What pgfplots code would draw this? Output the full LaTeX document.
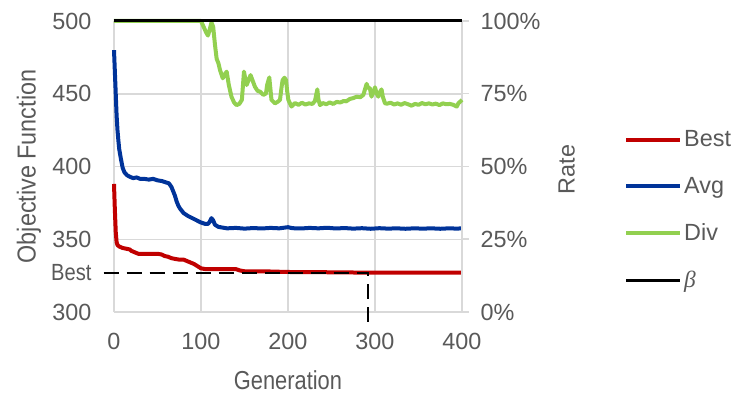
\documentclass[border=0pt]{standalone}
\usepackage{pgfplots}
\pgfplotsset{compat=1.18}
\usepackage{fontspec}
\setmainfont{Liberation Sans}
\newfontfamily\narrowA[FakeStretch=0.86]{Liberation Sans}
\newfontfamily\narrowB[FakeStretch=0.90]{Liberation Sans}
\newfontfamily\narrowC[FakeStretch=0.84]{Liberation Sans}
\newfontfamily\serifgreek{Liberation Serif}
\definecolor{txt}{HTML}{595959}
\definecolor{cRed}{HTML}{C00000}
\definecolor{cBlue}{HTML}{003399}
\definecolor{cGreen}{HTML}{92D050}
\definecolor{gridc}{HTML}{D9D9D9}
\newcommand\tfont{\fontsize{23.4pt}{28pt}\selectfont}
\begin{document}
\begin{tikzpicture}
\path[use as bounding box] (-114pt,-82pt) rectangle (626pt,312pt);
\pgfplotsset{
  base/.style={
    scale only axis, width=348pt, height=291pt,
    xmin=0, xmax=400,
    /pgf/number format/assume math mode=true,
    ticklabel style={font=\tfont, text=txt},
    label style={text=txt},
  }
}
\begin{axis}[base,
  ymin=300, ymax=500,
  axis x line*=bottom, axis y line*=left,
  axis line style={draw=gridc, line width=1.5pt, -},
  xtick={0,100,200,300,400}, ytick={300,350,400,450,500},
  major tick length=0pt,
  grid=major, major grid style={draw=gridc, line width=1.5pt},
  xticklabel style={yshift=-18pt},
  yticklabel style={xshift=-19pt},
  extra y ticks={327}, extra y tick labels={{\narrowA\tfont Best}},
  extra y tick style={grid=none, major tick length=0pt},
  xlabel={\narrowC\fontsize{26pt}{30pt}\selectfont Generation},
  xlabel style={at={(axis description cs:0.5,-0.2665)}, anchor=base, text depth=0pt, inner sep=0pt},
  ylabel={\narrowB\fontsize{26pt}{30pt}\selectfont Objective Function},
  ylabel style={at={(axis description cs:-0.2443,0.5)}, anchor=center},
  clip=false,
]
\addplot[cRed, line width=4pt, line join=round] coordinates {
(0,388) (1,370) (2,355) (3,348) (4,346) (6,345) (8,344.5) (10,344) (14,343.5) (18,343) (20,342) (24,341) (28,340) (40,340) (50,340) (55,339.5) (58,338.5) (62,338) (66,337) (70,336.5) (75,336) (80,336) (84,335) (88,334) (92,333) (96,331.5) (100,330) (105,329.5) (110,329.5) (125,329.5) (140,329.5) (145,328.5) (150,328) (170,328) (200,327.5) (250,327.3) (300,327) (400,327)
};
\addplot[cBlue, line width=4pt, line join=round] coordinates {
(0,480) (1,465) (2,450) (3,435) (4,425) (5,418) (6,412) (8,405) (10,399) (12,396) (15,394) (18,393) (22,392) (26,392.5) (30,391.5) (35,391.5) (40,391) (45,391.5) (50,390.5) (55,390) (60,389) (63,388.5) (66,386) (68,383) (70,380) (72,376) (74,373) (76,371) (80,368) (85,366) (90,364.5) (95,363) (100,361.5) (105,360.5) (108,360.5) (110,362) (112,364.5) (114,363) (116,360) (120,358.5) (125,358) (130,357.5) (140,357.8) (150,357.3) (160,357.7) (170,357.4) (180,357.8) (190,357.5) (200,358.3) (205,357.6) (215,357.4) (225,357.8) (235,357.5) (245,357.9) (255,357.4) (265,357.7) (275,357.3) (285,357.6) (295,357.2) (305,357.6) (315,357.3) (325,357.5) (335,357.2) (345,357.5) (355,357.3) (365,357.5) (375,357.2) (385,357.5) (395,357.3) (400,357.6)
};
\addplot[black, line width=2pt, dash pattern=on 15pt off 8pt] coordinates {
(-12,327) (292,327) (292,291)
};
\end{axis}
\begin{axis}[base,
  ymin=0, ymax=100,
  axis x line=none, axis y line*=right,
  axis line style={draw=gridc, line width=1.5pt, -},
  ytick={0,25,50,75,100},
  yticklabel={\pgfmathprintnumber{\tick}\%},
  tick align=outside, major tick length=7pt,
  tick style={draw=gridc, line width=1.5pt},
  yticklabel style={xshift=8pt},
  ylabel={\fontsize{23.4pt}{28pt}\selectfont Rate},
  ylabel style={at={(axis description cs:1.3009,0.49)}, anchor=center},
  clip=false,
  legend style={at={(axis description cs:1,0.35)}, anchor=west, xshift=159pt,
    draw=none, fill=none, font=\tfont, text=txt, row sep=25pt,
    nodes={inner sep=2pt}},
  legend cell align=left,
  legend image code/.code={\draw[#1] (0pt,0pt) -- (54pt,0pt);},
]
\addlegendimage{cRed, line width=4pt}
\addlegendentry{Best}
\addlegendimage{cBlue, line width=4pt}
\addlegendentry{Avg}
\addplot[cGreen, line width=4pt, line join=round] coordinates {
(0,100) (100,100) (103,98) (106,96) (108,95) (110,97) (112,99.5) (114,98) (116,92) (118,87) (120,85.5) (122,83) (125,80.3) (127,81.5) (129.5,82.6) (132,78) (135,74) (138,72) (141,71.1) (144,71.5) (147,72.9) (149.4,82.6) (151,80) (152.5,78) (155,80) (157,81.4) (160,79) (162,77.4) (165,76) (168,75.7) (171.6,74.6) (174.7,75.1) (176,78) (178.5,80.6) (180,76) (181,72.9) (185,71.7) (188,72.2) (190.8,72.9) (192.5,77) (193.8,79.7) (196,80.5) (197.7,79.7) (199,76) (200.4,72.9) (204,70.6) (208,71.8) (212,71.2) (216,71.9) (220,71.3) (224,71.7) (228,71.5) (231,72.5) (233.7,76.5) (235,73) (236.8,71.1) (240,71.8) (244,71.4) (248,72) (252,71.5) (256,72.2) (260,72) (264,72.5) (267,72.4) (271,73.2) (275,73.5) (279,74) (283,73.8) (286.6,74.6) (288,76) (290.4,78.4) (292,77) (294,77) (296,74) (298,75.5) (300,77.2) (302,75) (303.8,74) (305.5,75.5) (307.5,76.5) (309,74) (311.5,71.7) (314,71.6) (318,71.9) (322,71.3) (326,71.7) (330,71.2) (334,71.8) (338,71.4) (342,70.9) (346,71.5) (350,71.2) (354,71.8) (358,71.4) (362,71.7) (366,71.3) (370,71.6) (374,71.1) (378,71.7) (382,71.4) (386,71.5) (390,71.2) (394,70.6) (396,71.8) (398,72.3) (400,72.9)
};
\addlegendentry{Div}
\addplot[black, line width=3pt] coordinates {(0,100) (400,100)};
\addlegendentry{{\serifgreek\itshape β}}
\end{axis}
\end{tikzpicture}
\end{document}
